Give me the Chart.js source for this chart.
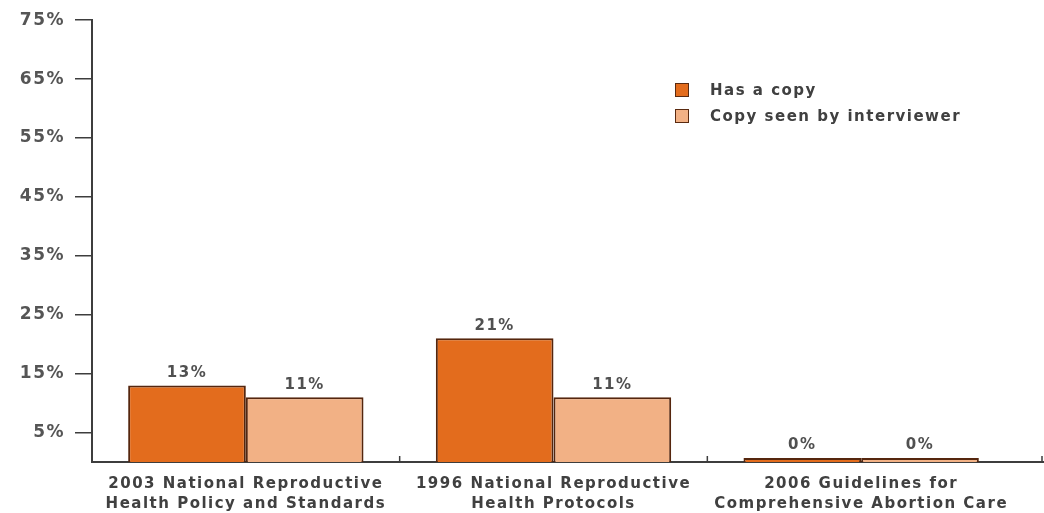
<!DOCTYPE html>
<html>
<head>
<meta charset="utf-8">
<script src="https://cdn.jsdelivr.net/npm/chart.js@4.4.1/dist/chart.umd.min.js"></script>
<style>
    html, body { margin: 0; padding: 0; background: #fff; }
    #contenedor { position: relative; width: 1044px; height: 513px; }
    #leyenda {
        position: absolute; left: 675px; top: 77px;
        font-family: "DejaVu Sans", sans-serif; font-size: 15px; font-weight: bold;
        letter-spacing: 1.5px; color: #404040;
    }
    #leyenda div { display: flex; align-items: center; height: 26px; }
    #leyenda span.caja {
        display: inline-block; width: 12px; height: 12px; margin-right: 21px;
        border: 1.5px solid #5a2a10;
    }
</style>
</head>
<body>
<div id="contenedor">
    <canvas id="graficaCopias" width="1044" height="513"></canvas>
    <div id="leyenda"></div>
</div>
<script>
const categorias = [
    ['2003 National Reproductive', 'Health Policy and Standards'],
    ['1996 National Reproductive', 'Health Protocols'],
    ['2006 Guidelines for', 'Comprehensive Abortion Care']
];
const tieneCopia = [13, 21, 0];
const copiaVista = [11, 11, 0];
const nombresSeries = ['Has a copy', 'Copy seen by interviewer'];
const ticksY = [5, 15, 25, 35, 45, 55, 65, 75];

const colorNaranja = '#e36c1d';
const colorClaro = '#f2b185';
const colorBorde = '#55260e';
const colorEje = '#3d3d3d';
const fuente = '"DejaVu Sans", sans-serif';
const espaciado = '1.5px';

// el texto de la grafica va algo espaciado
const pluginEspaciado = {
    id: 'espaciado',
    beforeUpdate(chart) { chart.ctx.letterSpacing = espaciado; },
    beforeDraw(chart) { chart.ctx.letterSpacing = espaciado; },
};

// etiquetas de valor encima de cada barra + marcas divisorias del eje x
const pluginEtiquetas = {
    id: 'etiquetas',
    afterDatasetsDraw(chart) {
        const ctx = chart.ctx;
        ctx.save();
        ctx.letterSpacing = espaciado;
        ctx.font = 'bold 15px ' + fuente;
        ctx.fillStyle = '#505050';
        ctx.textAlign = 'center';
        ctx.textBaseline = 'bottom';
        chart.data.datasets.forEach((ds, i) => {
            chart.getDatasetMeta(i).data.forEach((bar, j) => {
                ctx.fillText(ds.data[j] + '%', bar.x, bar.y - 5);
            });
        });

        const x = chart.scales.x;
        const yBase = chart.scales.y.getPixelForValue(0);
        ctx.strokeStyle = colorEje;
        ctx.lineWidth = 2;
        // prolongar la linea base hasta el borde
        ctx.beginPath();
        ctx.moveTo(chart.chartArea.right, yBase);
        ctx.lineTo(chart.width, yBase);
        ctx.stroke();
        ctx.lineWidth = 1.5;
        const marcas = [];
        for (let i = 1; i < categorias.length; i++) {
            marcas.push((x.getPixelForValue(i - 1) + x.getPixelForValue(i)) / 2);
        }
        marcas.push(chart.width - 2);
        marcas.forEach(px => {
            ctx.beginPath();
            ctx.moveTo(px, yBase);
            ctx.lineTo(px, yBase - 6);
            ctx.stroke();
        });
        ctx.restore();
    }
};

const datosGrafica = {
    labels: categorias,
    datasets: [
        {
            label: nombresSeries[0],
            data: tieneCopia,
            backgroundColor: colorNaranja,
            borderColor: colorBorde,
            borderWidth: 2,
            minBarLength: 4,
        },
        {
            label: nombresSeries[1],
            data: copiaVista,
            backgroundColor: colorClaro,
            borderColor: colorBorde,
            borderWidth: 2,
            minBarLength: 4,
        }
    ]
};

const grafica = new Chart(document.getElementById('graficaCopias'), {
    type: 'bar',
    data: datosGrafica,
    plugins: [pluginEspaciado, pluginEtiquetas],
    options: {
        responsive: false,
        animation: false,
        layout: { padding: { top: 17, right: 29, left: 0, bottom: 0 } },
        datasets: {
            bar: { categoryPercentage: 0.765, barPercentage: 1.0 }
        },
        plugins: {
            legend: { display: false },
            tooltip: { enabled: false },
        },
        scales: {
            y: {
                min: 0,
                max: 75,
                afterFit(escala) { escala.width = 92; },
                afterBuildTicks(escala) {
                    escala.ticks = ticksY.map(v => ({ value: v }));
                },
                grid: {
                    drawOnChartArea: false,
                    drawTicks: true,
                    tickLength: 17,
                    color: colorEje,
                    lineWidth: 1.5,
                },
                border: { display: true, color: colorEje, width: 2 },
                ticks: {
                    padding: 10,
                    color: '#555',
                    font: { family: fuente, size: 17, weight: 'bold' },
                    callback: v => v + '%',
                },
            },
            x: {
                afterFit(escala) { escala.height = 51; },
                grid: { display: false, drawTicks: false },
                border: { display: true, color: colorEje, width: 2 },
                ticks: {
                    padding: 12,
                    color: '#404040',
                    font: { family: fuente, size: 15, weight: 'bold', lineHeight: 1.33 },
                    maxRotation: 0,
                    autoSkip: false,
                },
            },
        },
    }
});

// leyenda vertical dentro del area de la grafica
const $leyenda = document.getElementById('leyenda');
datosGrafica.datasets.forEach(ds => {
    const fila = document.createElement('div');
    const caja = document.createElement('span');
    caja.className = 'caja';
    caja.style.background = ds.backgroundColor;
    fila.appendChild(caja);
    fila.appendChild(document.createTextNode(ds.label));
    $leyenda.appendChild(fila);
});
</script>
</body>
</html>
